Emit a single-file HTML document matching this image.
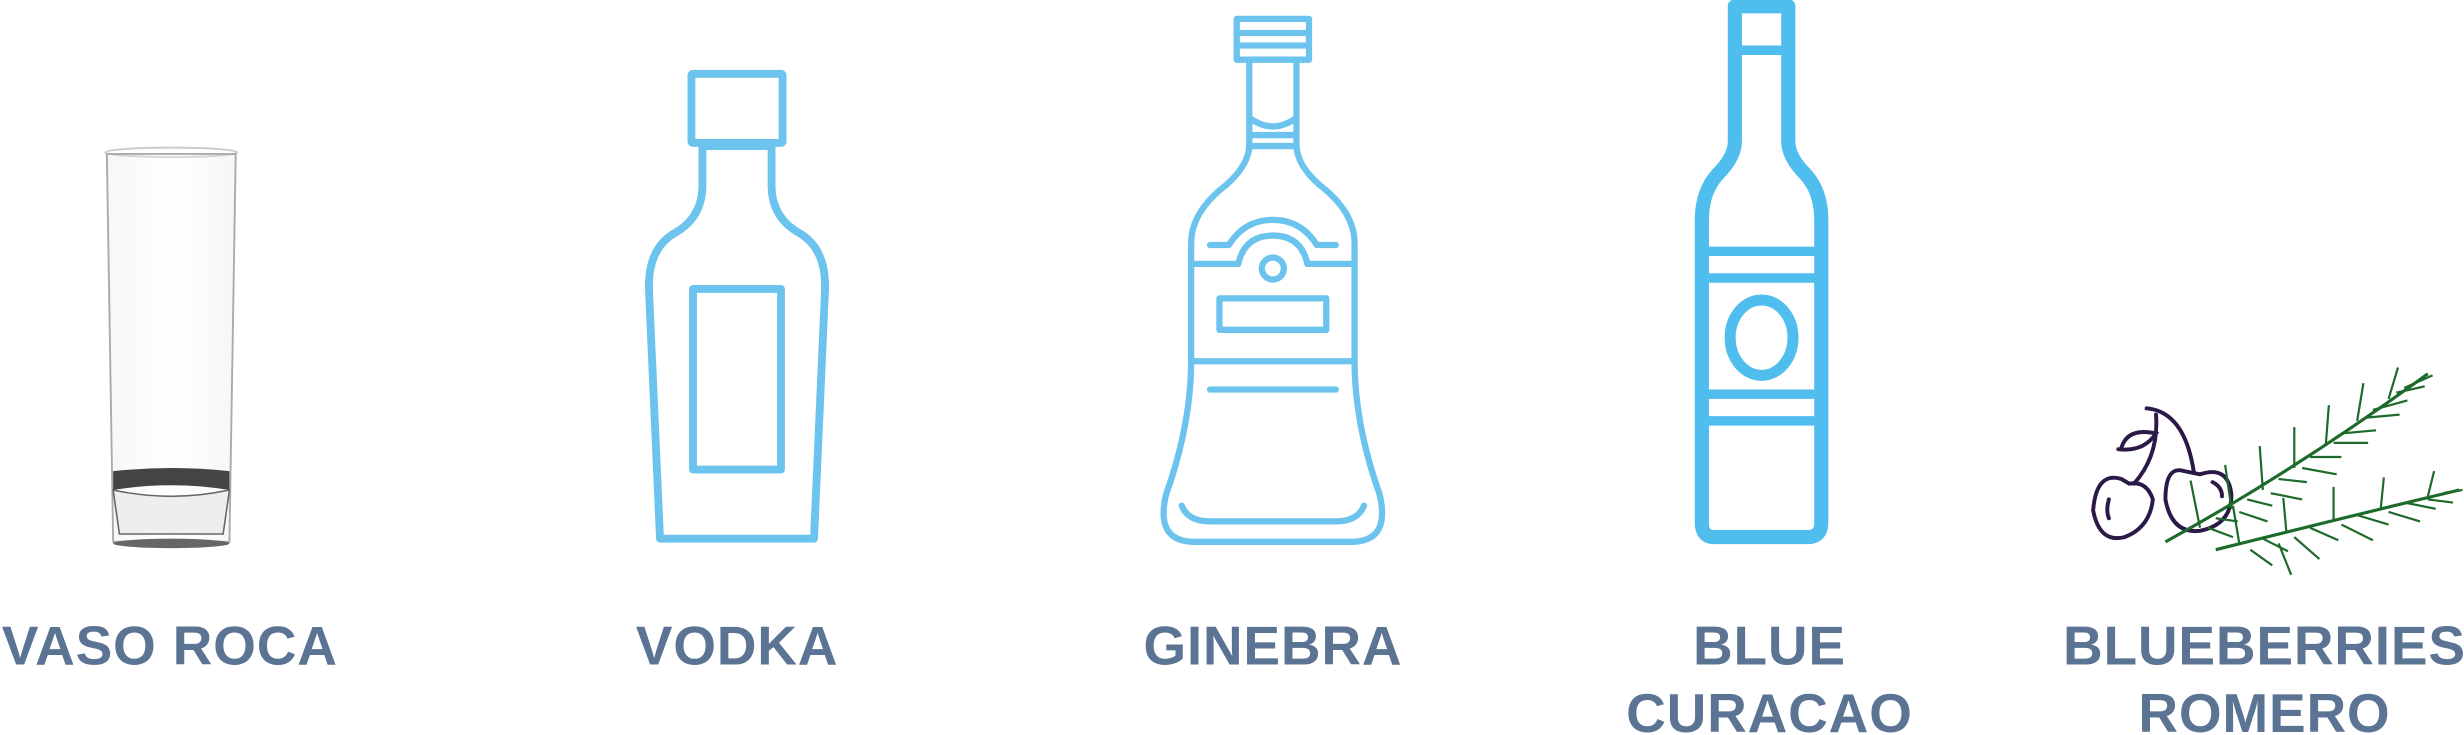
<!DOCTYPE html>
<html><head><meta charset="utf-8"><style>
html,body{margin:0;padding:0;background:#fff;}
svg{display:block;}
text{font-family:"Liberation Sans",sans-serif;font-weight:bold;fill:#5b7493;letter-spacing:0.5px;}
</style></head><body>
<svg width="2464" height="735" viewBox="0 0 1568 468" preserveAspectRatio="none" xmlns="http://www.w3.org/2000/svg">
<defs>
<linearGradient id="gl" x1="0" x2="1"><stop offset="0" stop-color="#ddd"/><stop offset=".5" stop-color="#fff"/><stop offset="1" stop-color="#ddd"/></linearGradient>
</defs>
<g>
<ellipse cx="109" cy="97" rx="42" ry="3" fill="none" stroke="#ccc" stroke-width="1.2"/>
<path d="M68,98 L150,98 L146,345 L72,345 Z" fill="url(#gl)" fill-opacity=".25" stroke="#aaa" stroke-width="1.2"/>
<path d="M72,300 Q109,296 146,300 L146,312 Q109,306 72,312 Z" fill="#444"/>
<path d="M72,312 L76,340 L142,340 L146,312 Q109,320 72,312 Z" fill="#eee" stroke="#666" stroke-width="1"/>
<ellipse cx="109" cy="346" rx="37" ry="3" fill="#666"/>
</g>
<g fill="none" stroke="#6cc4ee" stroke-width="5" stroke-linejoin="round">
<rect x="440" y="47" width="58" height="44" rx="1"/>
<path d="M447,93 V118 Q447,138 430,148 Q412,158 413,185 L420,343 H518 L525,185 Q526,158 508,148 Q491,138 491,118 V93 Z"/>
<rect x="441" y="184" width="56" height="115"/>
</g>
<g fill="none" stroke="#6cc4ee" stroke-width="4" stroke-linejoin="round" stroke-linecap="round">
<rect x="787" y="12" width="46" height="26"/>
<line x1="787" y1="21" x2="833" y2="21"/><line x1="787" y1="29" x2="833" y2="29"/>
<path d="M795,38 V92 Q795,105 780,118 Q758,135 758,155 V230 Q758,270 742,315 Q735,345 760,345 H860 Q885,345 878,315 Q862,270 862,230 V155 Q862,135 840,118 Q825,105 825,92 V38"/>
<path d="M795,75 Q810,86 825,75"/><line x1="795" y1="86" x2="825" y2="86"/><line x1="795" y1="93" x2="825" y2="93"/>
<line x1="758" y1="168" x2="788" y2="168"/><line x1="832" y1="168" x2="862" y2="168"/>
<path d="M788,168 Q792,150 810,150 Q828,150 832,168"/>
<path d="M770,156 H782 Q792,140 810,140 Q828,140 838,156 H850"/>
<circle cx="810" cy="171" r="7"/>
<rect x="776" y="190" width="68" height="20"/>
<line x1="758" y1="230" x2="862" y2="230"/>
<line x1="770" y1="248" x2="850" y2="248"/>
<path d="M752,322 Q756,332 770,332 H850 Q864,332 868,322"/>
</g>
<g fill="none" stroke="#4fbdee" stroke-width="9" stroke-linejoin="round">
<path d="M1104,4 H1138 V90 Q1138,100 1149,111 Q1159,122 1159,140 V333 Q1159,342 1150,342 H1091 Q1083,342 1083,333 V140 Q1083,122 1093,111 Q1104,100 1104,90 Z"/>
<line x1="1104" y1="32" x2="1138" y2="32" stroke-width="6"/>
<line x1="1083" y1="160" x2="1159" y2="160" stroke-width="6"/>
<line x1="1083" y1="177" x2="1159" y2="177" stroke-width="6"/>
<line x1="1083" y1="251" x2="1159" y2="251" stroke-width="6"/>
<line x1="1083" y1="268" x2="1159" y2="268" stroke-width="6"/>
<ellipse cx="1121" cy="215" rx="20" ry="24" stroke-width="7"/>
</g>
<g fill="none" stroke="#2b1947" stroke-width="2.5" stroke-linecap="round">
<path d="M1366,260 Q1390,262 1396,300"/>
<path d="M1372,264 Q1374,290 1358,308"/>
<path d="M1350,285 Q1354,272 1372,276 Q1364,288 1348,286"/>
<path d="M1350,305 Q1334,300 1332,325 Q1336,346 1352,342 Q1368,336 1370,318 Q1366,306 1355,308 Z"/>
<path d="M1342,318 Q1340,325 1342,330"/>
<path d="M1390,300 Q1378,296 1378,318 Q1382,340 1400,338 Q1420,334 1420,315 Q1418,296 1400,302 Z"/>
<path d="M1408,307 Q1414,310 1414,316"/>
</g>
<g stroke="#1d6a2a" stroke-width="1.4" fill="none">
<path d="M1378,345 Q1460,300 1545,238" stroke-width="2"/>
<path d="M1410,350 Q1490,330 1565,312" stroke-width="2"/>
<path d="M1400,336 l-6,-30 M1410,330 l14,2 M1420,324 l-4,-28 M1430,318 l16,4 M1440,312 l-2,-28 M1450,305 l18,2 M1460,298 l0,-26 M1470,291 l20,0 M1480,284 l2,-26 M1490,276 l22,-2 M1500,268 l4,-24 M1510,261 l22,-6 M1520,254 l6,-20 M1530,247 l18,-8 M1405,336 l16,6 M1425,326 l18,6 M1445,314 l20,4 M1465,298 l22,4 M1485,282 l22,0 M1505,266 l22,-2 M1525,250 l18,-4"/>
<path d="M1425,346 l-4,-24 M1440,343 l16,8 M1455,339 l-2,-22 M1470,336 l18,8 M1485,332 l0,-22 M1500,328 l20,6 M1515,324 l2,-20 M1530,320 l20,4 M1545,316 l4,-16 M1555,314 l12,-2 M1432,350 l14,10 M1460,342 l16,14 M1490,334 l20,10 M1520,326 l20,6 M1545,318 l16,2 M1450,346 l8,20"/>
</g>
<text x="108" y="423" font-size="35" text-anchor="middle">VASO ROCA</text>
<text x="469" y="423" font-size="35" text-anchor="middle">VODKA</text>
<text x="810" y="423" font-size="35" text-anchor="middle">GINEBRA</text>
<text font-size="35" text-anchor="middle"><tspan x="1126" y="423">BLUE</tspan><tspan x="1126" y="466">CURACAO</tspan></text>
<text font-size="35" text-anchor="middle"><tspan x="1441" y="423">BLUEBERRIES</tspan><tspan x="1441" y="466">ROMERO</tspan></text>
</svg>
</body></html>
